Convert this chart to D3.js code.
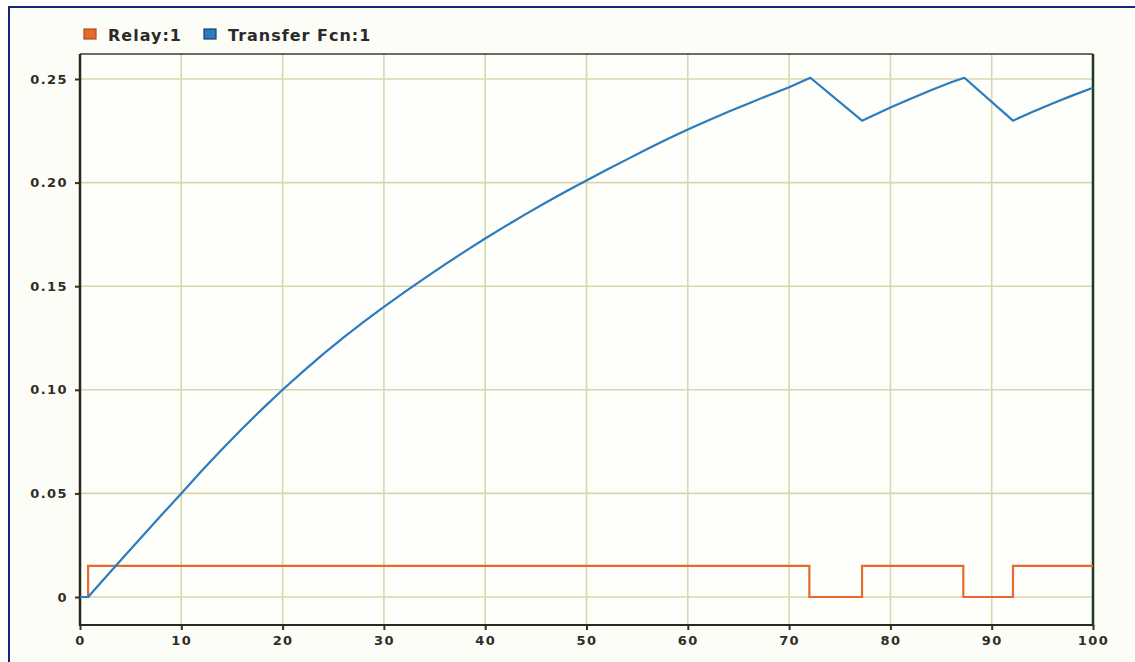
<!DOCTYPE html>
<html>
<head>
<meta charset="utf-8">
<script src="https://cdn.jsdelivr.net/npm/d3@7"></script>
<style>
  html, body { margin: 0; padding: 0; background: #fdfdf8; }
  svg { display: block; }
</style>
</head>
<body>
<div id="chart"></div>
<script>
// ---- data ----
const seriesNames = ["Relay:1", "Transfer Fcn:1"];
const xTicks = [0, 10, 20, 30, 40, 50, 60, 70, 80, 90, 100];
const yTicks = [0, 0.05, 0.10, 0.15, 0.20, 0.25];
const yTickLabels = ["0", "0.05", "0.10", "0.15", "0.20", "0.25"];

// Relay output (step changes)
const relayT = [0, 0.8, 0.8, 72, 72, 77.2, 77.2, 87.2, 87.2, 92.1, 92.1, 100];
const relayV = [0, 0, 0.015, 0.015, 0, 0, 0.015, 0.015, 0, 0, 0.015, 0.015];

// Transfer Fcn output
const tfT = [0, 0.8, 2, 4, 6, 8, 10, 12, 14, 16, 18, 20, 22, 24, 26, 28, 30, 32, 34, 36, 38, 40,
             42, 44, 46, 48, 50, 52, 54, 56, 58, 60, 62, 64, 66, 68, 70, 72.1, 77.2, 80, 82, 84, 86,
             87.3, 92.1, 94, 96, 98, 100];
const tfV = [0, 0, 0.0066, 0.0176, 0.0285, 0.0393, 0.0500, 0.0608, 0.0712, 0.0812, 0.0908, 0.1000,
             0.1088, 0.1172, 0.1252, 0.1328, 0.1400, 0.1470, 0.1538, 0.1604, 0.1668, 0.1730,
             0.1790, 0.1848, 0.1904, 0.1958, 0.2010, 0.2062, 0.2112, 0.2162, 0.2210, 0.2256,
             0.2300, 0.2342, 0.2382, 0.2422, 0.2460, 0.2506, 0.2299, 0.2362, 0.2405, 0.2446, 0.2484,
             0.2506, 0.2299, 0.2341, 0.2382, 0.2421, 0.2458];

const colors = ["#e8692e", "#2b7bbf"];
const legendBorder = ["#b24a1a", "#1a3f70"];

// ---- layout ----
const W = 1135, H = 662;
const pL = 80, pR = 1093, pT = 54, pB = 625;

const svg = d3.select("#chart").append("svg").attr("width", W).attr("height", H);

svg.append("rect").attr("x", 0).attr("y", 0).attr("width", W).attr("height", H).attr("fill", "#ffffff");
// outer frame
svg.append("rect").attr("x", 9).attr("y", 7).attr("width", W + 20).attr("height", H + 20)
  .attr("fill", "#fdfdf8").attr("stroke", "#13287a").attr("stroke-width", 2);

const x = d3.scaleLinear().domain([0, 100]).range([pL, pR]);
const y = d3.scaleLinear().domain([0, 0.25]).range([597, 79]);

// plot background
svg.append("rect").attr("x", pL).attr("y", pT).attr("width", pR - pL).attr("height", pB - pT)
  .attr("fill", "#fefefa");

// grid
const grid = svg.append("g");
grid.selectAll("line.gx").data(xTicks.filter(d => d > 0 && d < 100)).join("line")
  .attr("class", "gx")
  .attr("x1", d => x(d)).attr("x2", d => x(d)).attr("y1", pT).attr("y2", pB)
  .attr("stroke", "#d8d8ae").attr("stroke-width", 1.6);
grid.selectAll("line.gy").data(yTicks).join("line")
  .attr("class", "gy")
  .attr("x1", pL).attr("x2", pR).attr("y1", d => y(d)).attr("y2", d => y(d))
  .attr("stroke", "#d8d8ae").attr("stroke-width", 1.6);

// axes
const tickFont = "'DejaVu Sans', sans-serif";
const yAxis = svg.append("g").attr("transform", `translate(${pL},0)`)
  .call(d3.axisLeft(y).tickValues(yTicks).tickFormat((d, i) => yTickLabels[i]).tickSize(5).tickPadding(7));
const xAxis = svg.append("g").attr("transform", `translate(0,${pB})`)
  .call(d3.axisBottom(x).tickValues(xTicks).tickSize(5).tickPadding(6));
[yAxis, xAxis].forEach(g => {
  g.select(".domain").remove();
  g.selectAll(".tick line").attr("stroke", "#333322").attr("stroke-width", 2);
  g.selectAll(".tick text").attr("fill", "#2e2e26").attr("font-family", tickFont)
    .attr("font-weight", "bold").attr("font-size", 13).style("letter-spacing", "1.4px");
});

// frame lines of plot
svg.append("line").attr("x1", pL).attr("x2", pR).attr("y1", pT).attr("y2", pT)
  .attr("stroke", "#3a3a3a").attr("stroke-width", 1.5);
svg.append("line").attr("x1", pL).attr("x2", pR).attr("y1", pB).attr("y2", pB)
  .attr("stroke", "#2a2a20").attr("stroke-width", 2);
svg.append("line").attr("x1", pL).attr("x2", pL).attr("y1", pT).attr("y2", pB + 1)
  .attr("stroke", "#2a2a18").attr("stroke-width", 2.5);
svg.append("line").attr("x1", pR).attr("x2", pR).attr("y1", pT).attr("y2", pB + 1)
  .attr("stroke", "#1f3a1f").attr("stroke-width", 2.5);

// series
const line = d3.line().x(d => x(d[0])).y(d => y(d[1]));
const relayPts = relayT.map((t, i) => [t, relayV[i]]);
const tfPts = tfT.map((t, i) => [t, tfV[i]]);

svg.append("path").datum(relayPts).attr("d", line).attr("fill", "none")
  .attr("stroke", colors[0]).attr("stroke-width", 2.2);
svg.append("path").datum(tfPts).attr("d", line).attr("fill", "none")
  .attr("stroke", colors[1]).attr("stroke-width", 2.2).attr("stroke-linejoin", "round");

// legend
const legend = svg.append("g");
const legX = [84, 204];
seriesNames.forEach((name, i) => {
  legend.append("rect").attr("x", legX[i]).attr("y", 29).attr("width", 12).attr("height", 10)
    .attr("fill", colors[i]).attr("stroke", legendBorder[i]).attr("stroke-width", 1.2);
  legend.append("text").attr("x", legX[i] + 24).attr("y", 41).text(name)
    .attr("font-family", tickFont).attr("font-weight", "bold").attr("font-size", 16)
    .style("letter-spacing", "1px").attr("fill", "#2a2a2a");
});
</script>
</body>
</html>
